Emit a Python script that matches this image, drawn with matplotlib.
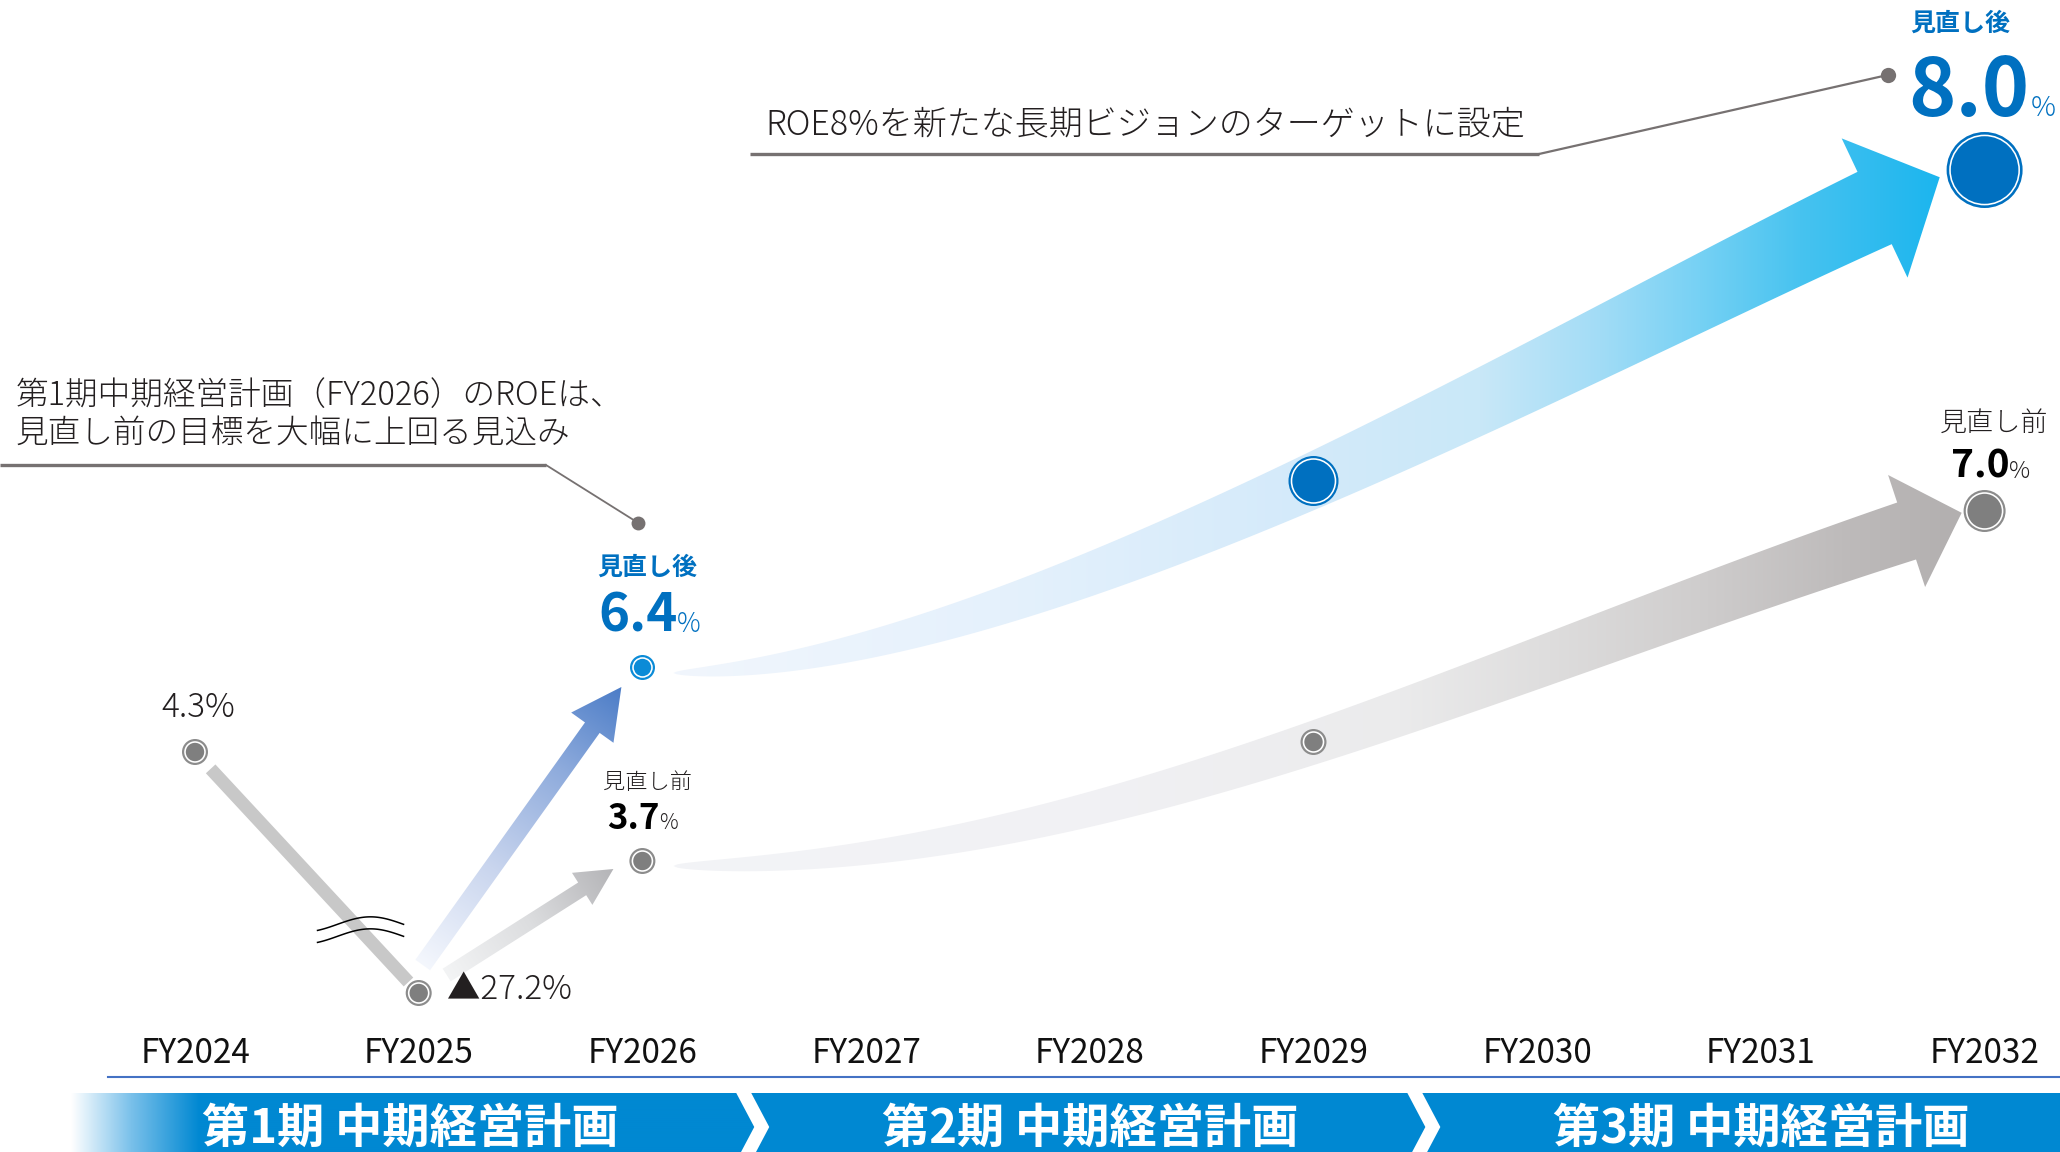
import numpy as np
import matplotlib
matplotlib.use('Agg')
import matplotlib.pyplot as plt
from matplotlib.colors import to_rgb
from matplotlib.patches import Polygon

plt.rcParams['font.family'] = ['Noto Sans CJK JP', 'DejaVu Sans']

# ---------------- data ----------------
YEARS = [2024, 2025, 2026, 2027, 2028, 2029, 2030, 2031, 2032]
YEAR_LABELS = ['FY2024', 'FY2025', 'FY2026', 'FY2027', 'FY2028',
               'FY2029', 'FY2030', 'FY2031', 'FY2032']
ACTUAL_YEARS = [2024, 2025]
ACTUAL_ROE = [4.3, -27.2]
ACTUAL_LABELS = ['4.3%', '▲27.2%']
PLAN_YEARS = [2026, 2029, 2032]
ROE_REVISED = [6.4, 7.2, 8.0]      # 見直し後 (FY2029 point unlabeled, estimated)
ROE_ORIGINAL = [3.7, 5.4, 7.0]     # 見直し前 (FY2029 point unlabeled, estimated)
PHASE_NAMES = ['第1期 中期経営計画', '第2期 中期経営計画', '第3期 中期経営計画']
PHASE_FIRST = [2024, 2027, 2030]
PHASE_LAST = [2026, 2029, 2032]
NOTE_1 = ['第1期中期経営計画（FY2026）のROEは、', '見直し前の目標を大幅に上回る見込み']
NOTE_2 = 'ROE8%を新たな長期ビジョンのターゲットに設定'
TAG_REVISED = '見直し後'
TAG_ORIGINAL = '見直し前'

# ---------------- layout (non-proportional display scale) ----------------
SCALE_ROE = [-40, -27.2, 3.7, 4.3, 5.4, 6.4, 7.0, 7.2, 8.0, 9.0]
SCALE_H = [-23, 84, 216, 325, 335, 410, 566, 596, 907, 1247]

W, H, DPI = 2060, 1152, 100
AX_L, AX_BOT = 108, 1077
PX_PER_YEAR = 223.7

BLUE = '#0070c0'
BLUE_LIGHT = '#0b8bd7'
GREY_FILL = '#7f7f7f'
GREY_RING = '#8c8c8c'
LEADER = '#767171'
BANNER = '#0088d2'
TXT = '#231f20'
LIGHT = 'light'

fig = plt.figure(figsize=(W / DPI, H / DPI), dpi=DPI)
fig.patch.set_facecolor('white')
axd = fig.add_axes([0, 0, 1, 1])
axd.set_xlim(0, W)
axd.set_ylim(H, 0)
axd.set_autoscale_on(False)
axd.axis('off')

ax = fig.add_axes([AX_L / W, (H - AX_BOT) / H, (W - AX_L) / W, AX_BOT / H])
ax.patch.set_alpha(0)


def fwd(v):
    return np.interp(v, SCALE_ROE, SCALE_H)


def inv(h):
    return np.interp(h, SCALE_H, SCALE_ROE)


ax.set_yscale('function', functions=(fwd, inv))
ax.set_ylim(inv(0), inv(AX_BOT))
XMIN = 2024 - 87 / PX_PER_YEAR
ax.set_xlim(XMIN, XMIN + (W - AX_L) / PX_PER_YEAR)
ax.set_autoscale_on(False)
for s in ['top', 'left', 'right']:
    ax.spines[s].set_visible(False)
ax.spines['bottom'].set_color('#4472c4')
ax.spines['bottom'].set_linewidth(1.5)
ax.set_xticks([])
ax.set_yticks([])


def to_px(x, y):
    return axd.transData.inverted().transform(ax.transData.transform((x, y)))


act_px = [to_px(x, y) for x, y in zip(ACTUAL_YEARS, ACTUAL_ROE)]
rev_px = [to_px(x, y) for x, y in zip(PLAN_YEARS, ROE_REVISED)]
org_px = [to_px(x, y) for x, y in zip(PLAN_YEARS, ROE_ORIGINAL)]


def grad_poly(verts, pfunc, stops, colors, z):
    verts = np.asarray(verts, dtype=float)
    poly = Polygon(verts, closed=True, fc='none', ec='none')
    axd.add_patch(poly)
    x0, y0 = verts.min(0) - 2
    x1, y1 = verts.max(0) + 2
    gx = np.arange(x0, x1 + 1, 1.0)
    gy = np.arange(y0, y1 + 1, 1.0)
    GX, GY = np.meshgrid(gx, gy)
    P = pfunc(GX, GY)
    cols = np.array([to_rgb(c) for c in colors])
    rgb = np.stack([np.interp(P, stops, cols[:, k]) for k in range(3)], -1)
    im = axd.imshow(rgb, extent=(gx[0] - .5, gx[-1] + .5, gy[-1] + .5, gy[0] - .5),
                    origin='upper', aspect='auto', zorder=z, interpolation='bilinear')
    im.set_clip_path(poly)


def straight_arrow(T, P, w, hw, hl, stops, colors, z):
    T = np.asarray(T, float)
    P = np.asarray(P, float)
    L = np.linalg.norm(P - T)
    d = (P - T) / L
    n = np.array([-d[1], d[0]])
    B = P - hl * d
    verts = [T + n * w / 2, B + n * w / 2, B + n * hw / 2, P,
             B - n * hw / 2, B - n * w / 2, T - n * w / 2]
    grad_poly(verts, lambda X, Y: ((X - T[0]) * d[0] + (Y - T[1]) * d[1]) / L,
              stops, colors, z)


def cubic(P0, P1, P2, P3, t):
    t = t[:, None]
    return ((1 - t) ** 3 * P0 + 3 * (1 - t) ** 2 * t * P1
            + 3 * (1 - t) * t ** 2 * P2 + t ** 3 * P3)


def band_arrow(S, E, d0, d1, M, w_end, power, head_half, head_len, stops, colors, z):
    S, E, M = (np.asarray(v, float) for v in (S, E, M))
    d0 = np.asarray(d0, float) / np.linalg.norm(d0)
    d1 = np.asarray(d1, float) / np.linalg.norm(d1)
    t = np.linspace(0, 1, 300)
    best, best_ab = 1e9, (300, 300)
    for a in np.linspace(60, 900, 43):
        for b in np.linspace(60, 900, 43):
            pts = cubic(S, S + a * d0, E - b * d1, E, t)
            dist = np.min(np.hypot(pts[:, 0] - M[0], pts[:, 1] - M[1]))
            cost = dist + 0.004 * abs(a - b)
            if cost < best:
                best, best_ab = cost, (a, b)
    a, b = best_ab
    pts = cubic(S, S + a * d0, E - b * d1, E, t)
    tan = np.gradient(pts, axis=0)
    tan /= np.linalg.norm(tan, axis=1)[:, None]
    nrm = np.stack([tan[:, 1], -tan[:, 0]], 1)   # points "up" on screen
    seg = np.hypot(*np.diff(pts, axis=0).T)
    s = np.concatenate([[0], np.cumsum(seg)]) / seg.sum()
    w = w_end * s ** power
    upper = pts + nrm * (w / 2)[:, None]
    lower = pts - nrm * (w / 2)[:, None]
    ne = nrm[-1]
    tip = E + head_len * d1
    verts = np.vstack([upper, [E + ne * head_half, tip, E - ne * head_half], lower[::-1]])
    grad_poly(verts, lambda X, Y: X, stops, colors, z)


# ---------------- banner ----------------
def xpx(yr):
    return to_px(yr, 5.0)[0]


TOP, MID, BOT = 1093, 1127, 1161
bounds = [xpx(l + 0.5) for l in PHASE_LAST[:-1]]
left0 = xpx(PHASE_FIRST[0] - 0.55)
seg1 = [(left0, TOP), (bounds[0] - 18, TOP), (bounds[0], MID), (bounds[0] - 18, BOT), (left0, BOT)]
grad_poly(seg1, lambda X, Y: X, [left0, left0 + 60, left0 + 128],
          ['#ffffff', '#79c0ea', BANNER], 1)
seg2 = [(bounds[0] - 3, TOP), (bounds[1] - 18, TOP), (bounds[1], MID),
        (bounds[1] - 18, BOT), (bounds[0] - 3, BOT), (bounds[0] + 15, MID)]
axd.add_patch(Polygon(seg2, closed=True, fc=BANNER, ec='none', zorder=1))
seg3 = [(bounds[1] - 3, TOP), (W + 5, TOP), (W + 5, BOT), (bounds[1] - 3, BOT), (bounds[1] + 15, MID)]
axd.add_patch(Polygon(seg3, closed=True, fc=BANNER, ec='none', zorder=1))
for name, f, l in zip(PHASE_NAMES, PHASE_FIRST, PHASE_LAST):
    axd.text(xpx((f + l) / 2) - (8 if f == PHASE_FIRST[0] else 0), 1129, name,
             color='white', fontsize=34, fontweight='bold', ha='center', va='center', zorder=5)

# ---------------- year labels ----------------
for yr, lab_ in zip(YEARS, YEAR_LABELS):
    ax.text(yr, 14 / AX_BOT, lab_, transform=ax.get_xaxis_transform(),
            ha='center', va='baseline', fontsize=24, color='#111111')

# ---------------- actual line FY2024 -> FY2025 ----------------
p24, p25 = act_px
dv = (p25 - p24) / np.linalg.norm(p25 - p24)
a0 = p24 + 23 * dv
a1 = p25 - 15 * dv
axd.plot([a0[0], a1[0]], [a0[1], a1[1]], color='#c8c8c8', lw=13 * 0.72,
         solid_capstyle='butt', zorder=2)
c = p24 + 0.74 * (p25 - p24)
u = np.linspace(0, 1, 80)
xw = c[0] - 43 + 86 * u
yw = -7.5 * np.sin(np.pi * (1.3 * u - 0.3))
for off in (-6, 6):
    axd.plot(xw, c[1] + off + yw, color='black', lw=1.1, zorder=3)

# ---------------- arrows ----------------
straight_arrow(p25 + np.array([4, -28]), rev_px[0] + np.array([-21, 20]),
               18, 52, 50, [0, 0.35, 0.7, 1],
               ['#f4f7fd', '#c9d5ee', '#8eabdc', '#4b7cc7'], 2)
straight_arrow(p25 + np.array([28, -18]), org_px[0] + np.array([-29, 8]),
               15, 38, 37, [0, 0.5, 1],
               ['#f3f4f5', '#dcdddf', '#b4b4b7'], 2)

band_arrow(rev_px[0] + np.array([31, 6]), rev_px[2] + np.array([-110, 38]),
           (1, -0.02), (0.904, -0.427), rev_px[1], 80, 0.57, 77, 72,
           [680, 1000, 1300, 1480, 1600, 1700, 1800, 1950],
           ['#f1f6fd', '#e5f1fc', '#d4eafa', '#c9e8f8', '#a2dcf6', '#76d1f4', '#47c3f0', '#18b4ee'], 2)
band_arrow(org_px[0] + np.array([31, 5]), org_px[2] + np.array([-78, 20]),
           (1, 0.0), (1, -0.33), org_px[1], 60, 0.5, 59, 58,
           [680, 1100, 1400, 1550, 1700, 1850, 1970],
           ['#f3f4f7', '#f1f1f4', '#ebebec', '#dedddd', '#cfcdcd', '#bdbaba', '#b1aeae'], 2)


# ---------------- markers ----------------
def ring_markers(xs, ys, radii, ring, fill, z):
    radii = np.asarray(radii, float)
    ax.scatter(xs, ys, s=(2 * radii * 0.72) ** 2, color=ring, linewidths=0, zorder=z)
    inner = radii - np.maximum(3.0, radii * 0.09)
    ax.scatter(xs, ys, s=(2 * inner * 0.72) ** 2, facecolor=fill, edgecolor='white',
               linewidths=1.6 * 0.72, zorder=z + 0.1)


ring_markers(ACTUAL_YEARS, ACTUAL_ROE, [13, 13], GREY_RING, GREY_FILL, 5)
ring_markers(PLAN_YEARS, ROE_ORIGINAL, [13, 13, 21], GREY_RING, GREY_FILL, 5)
ring_markers(PLAN_YEARS[:1], ROE_REVISED[:1], [12.5], BLUE_LIGHT, BLUE_LIGHT, 5)
ring_markers(PLAN_YEARS[1:], ROE_REVISED[1:], [25, 38], BLUE, BLUE, 5)


# ---------------- value labels ----------------
def lab(x, y, text, dx, dy, **kw):
    ax.annotate(text, (x, y), xytext=(dx, dy), textcoords='offset pixels',
                annotation_clip=False, zorder=6, **kw)


lab(ACTUAL_YEARS[0], ACTUAL_ROE[0], ACTUAL_LABELS[0], 3, 44, ha='center', va='center',
    fontsize=24, color=TXT, fontweight=LIGHT)
lab(ACTUAL_YEARS[1], ACTUAL_ROE[1], ACTUAL_LABELS[1], 28, 3, ha='left', va='center',
    fontsize=24, color=TXT, fontweight=LIGHT)


def value_tag(x, y, tag, value, tag_off, num_off, tag_kw, num_kw, pct_kw, gap):
    lab(x, y, tag, tag_off[0], tag_off[1], ha='center', va='center', **tag_kw)
    lab(x, y, f'{value:.1f}', num_off[0], num_off[1], ha='right', va='baseline', **num_kw)
    lab(x, y, '%', num_off[0] + gap, num_off[1], ha='left', va='baseline', **pct_kw)


value_tag(PLAN_YEARS[0], ROE_REVISED[0], TAG_REVISED, ROE_REVISED[0], (5, 99), (35, 35),
          dict(fontsize=18, fontweight='bold', color=BLUE),
          dict(fontsize=38, fontweight='bold', color=BLUE),
          dict(fontsize=19, color=BLUE, fontweight=LIGHT), -1)
value_tag(PLAN_YEARS[0], ROE_ORIGINAL[0], TAG_ORIGINAL, ROE_ORIGINAL[0], (5, 78), (17, 32),
          dict(fontsize=16, color=TXT, fontweight=LIGHT),
          dict(fontsize=25, fontweight='bold', color='black'),
          dict(fontsize=15, color=TXT, fontweight=LIGHT), 0)
value_tag(PLAN_YEARS[2], ROE_REVISED[2], TAG_REVISED, ROE_REVISED[2], (-24, 146), (45, 54),
          dict(fontsize=18, fontweight='bold', color=BLUE),
          dict(fontsize=58, fontweight='bold', color=BLUE),
          dict(fontsize=20, color=BLUE, fontweight=LIGHT), 1)
value_tag(PLAN_YEARS[2], ROE_ORIGINAL[2], TAG_ORIGINAL, ROE_ORIGINAL[2], (9, 88), (25, 33),
          dict(fontsize=19.5, color=TXT, fontweight=LIGHT),
          dict(fontsize=28, fontweight='bold', color='black'),
          dict(fontsize=17, color=TXT, fontweight=LIGHT), -1)

# ---------------- callouts ----------------
dot1 = rev_px[0] + np.array([-4, -144])
axd.plot([0, 546], [465, 465], color=LEADER, lw=2.4, zorder=3, solid_capstyle='butt')
axd.plot([546, dot1[0]], [465, dot1[1]], color=LEADER, lw=1.3, zorder=3)
axd.plot([dot1[0]], [dot1[1]], 'o', ms=10, color=LEADER, mec='none', zorder=3)
for i, line in enumerate(NOTE_1):
    axd.text(16, 396 + 38 * i, line, ha='left', va='center', fontsize=23.5,
             color=TXT, zorder=4, fontweight=LIGHT)

dot2 = rev_px[2] + np.array([-97, -95])
axd.plot([750, 1539], [154, 154], color=LEADER, lw=2.4, zorder=3, solid_capstyle='butt')
axd.plot([1539, dot2[0]], [154, dot2[1]], color=LEADER, lw=1.6, zorder=3)
axd.plot([dot2[0]], [dot2[1]], 'o', ms=11, color=LEADER, mec='none', zorder=3)
axd.text(765, 124, NOTE_2, ha='left', va='center', fontsize=24.5, color=TXT, zorder=4,
         fontweight=LIGHT)

fig.savefig('out.png', dpi=DPI, facecolor='white')
